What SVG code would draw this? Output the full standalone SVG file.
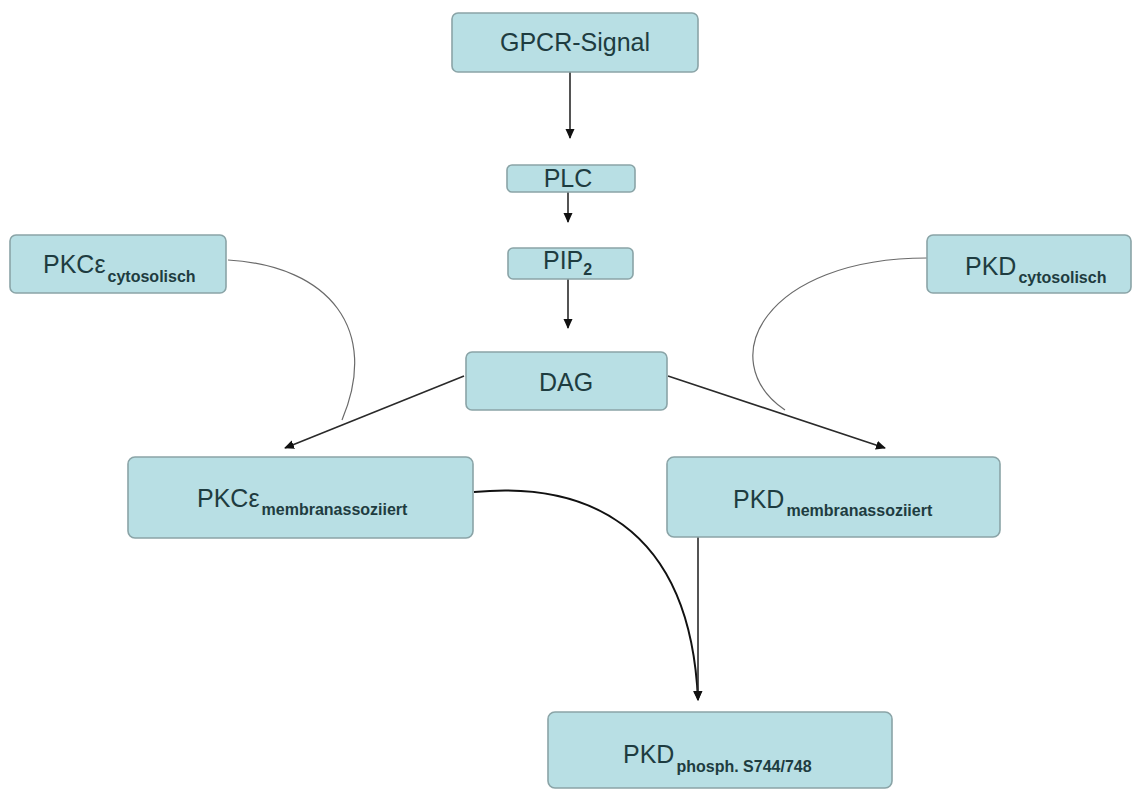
<svg xmlns="http://www.w3.org/2000/svg" width="1133" height="791" viewBox="0 0 1133 791">
<defs>
<style>
.box{fill:#b8dfe4;stroke:#8aa4a7;stroke-width:1.6}
.t{font-family:"Liberation Sans",Arial,sans-serif;font-size:25px;fill:#1e3c40}
.s{font-size:16px;font-weight:bold}
.c{fill:none;stroke:#2a2a2a;stroke-width:1.6}
.thin{fill:none;stroke:#6a6a6a;stroke-width:1.2}
.thick{fill:none;stroke:#111;stroke-width:2}
</style>
<marker id="ah" viewBox="0 0 10 10" refX="9" refY="5" markerWidth="10" markerHeight="10" markerUnits="userSpaceOnUse" orient="auto">
<path d="M0,0.5 L10,5 L0,9.5 Z" fill="#111"/>
</marker>
</defs>
<rect width="1133" height="791" fill="#ffffff"/>
<g id="connectors">
<line class="c" x1="570" y1="72" x2="570" y2="138" marker-end="url(#ah)"/>
<line class="c" x1="568" y1="192" x2="568" y2="222" marker-end="url(#ah)"/>
<line class="c" x1="568" y1="279" x2="568" y2="328" marker-end="url(#ah)"/>
<line class="c" x1="464" y1="376" x2="285" y2="448" marker-end="url(#ah)"/>
<line class="c" x1="668" y1="376" x2="885" y2="448" marker-end="url(#ah)"/>
<path class="thin" d="M228,260 C330,266 380,330 342,420"/>
<path class="thin" d="M927,258 C765,258 712,360 785,410"/>
<path class="thick" d="M474,492 C580,482 690,520 698,700" marker-end="url(#ah)"/>
<line class="c" x1="698" y1="537" x2="698" y2="700" marker-end="url(#ah)"/>
</g>
<g id="gpcr">
<rect class="box" x="452" y="13" width="246" height="59" rx="6"/>
<text class="t" x="575" y="51" text-anchor="middle">GPCR-Signal</text>
</g>
<g id="plc">
<rect class="box" x="507" y="165" width="128" height="27" rx="5"/>
<text class="t" x="568" y="187" text-anchor="middle">PLC</text>
</g>
<g id="pip2">
<rect class="box" x="508" y="248" width="125" height="31" rx="5"/>
<text class="t" x="543" y="269">PIP<tspan class="s" dy="6">2</tspan></text>
</g>
<g id="dag">
<rect class="box" x="466" y="352" width="201" height="58" rx="6"/>
<text class="t" x="566" y="391" text-anchor="middle">DAG</text>
</g>
<g id="pkce-cyto">
<rect class="box" x="10" y="235" width="216" height="58" rx="6"/>
<text class="t" x="43" y="273">PKCε<tspan class="s" dx="2" dy="9">cytosolisch</tspan></text>
</g>
<g id="pkd-cyto">
<rect class="box" x="927" y="235" width="204" height="58" rx="6"/>
<text class="t" x="965" y="275">PKD<tspan class="s" dx="2" dy="8">cytosolisch</tspan></text>
</g>
<g id="pkce-membr">
<rect class="box" x="128" y="457" width="345" height="81" rx="7"/>
<text class="t" x="197" y="507">PKCε<tspan class="s" dx="2" dy="8">membranassoziiert</tspan></text>
</g>
<g id="pkd-membr">
<rect class="box" x="667" y="457" width="333" height="80" rx="7"/>
<text class="t" x="733" y="508">PKD<tspan class="s" dx="2" dy="8">membranassoziiert</tspan></text>
</g>
<g id="pkd-phosph">
<rect class="box" x="548" y="712" width="344" height="76" rx="7"/>
<text class="t" x="623" y="763">PKD<tspan class="s" dx="2" dy="9">phosph. S744/748</tspan></text>
</g>
</svg>
